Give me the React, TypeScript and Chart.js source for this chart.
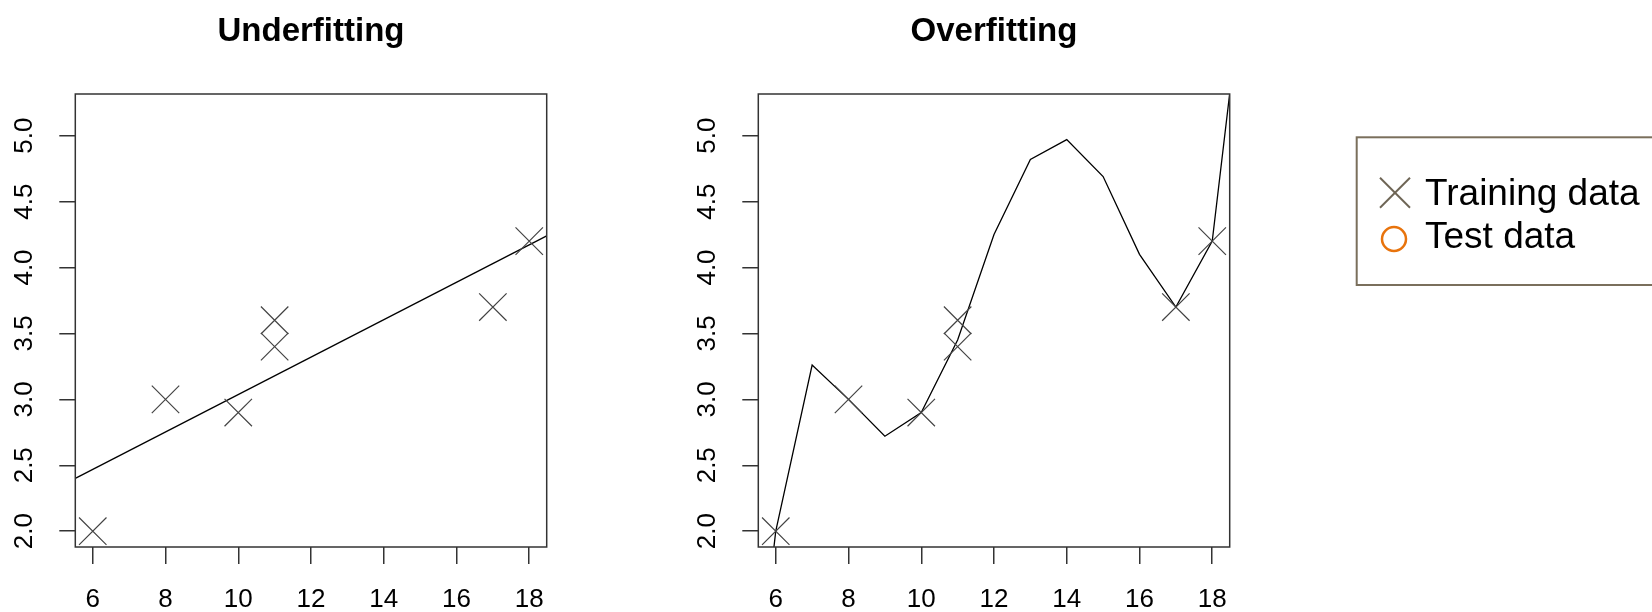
import React, { useEffect, useRef } from 'react';
import { Chart, registerables } from 'chart.js';

Chart.register(...registerables);

const FONT = '"Liberation Sans", Arial, Helvetica, sans-serif';

// ---- data ----
const trainX = [6, 8, 10, 11, 11, 17, 18];
const trainY = [2.0, 3.0, 2.9, 3.6, 3.4, 3.7, 4.2];

const fitX = [5.52, 18.48];
const fitY = [2.4, 4.24];

const overX = [5.5, 6, 7, 8, 9, 10, 11, 12, 13, 14, 15, 16, 17, 18, 18.48];
const overY = [0.8, 2.0, 3.26, 3.0, 2.72, 2.9, 3.45, 4.25, 4.82, 4.97, 4.69, 4.1, 3.7, 4.2, 5.32];

const xTicks = [6, 8, 10, 12, 14, 16, 18];
const xTickLabels = ['6', '8', '10', '12', '14', '16', '18'];
const yTicks = [2.0, 2.5, 3.0, 3.5, 4.0, 4.5, 5.0];
const yTickLabels = ['2.0', '2.5', '3.0', '3.5', '4.0', '4.5', '5.0'];

const titles = ['Underfitting', 'Overfitting'];
const legendLabels = ['Training data', 'Test data'];

const X_MIN = 5.52;
const X_MAX = 18.48;
const Y_MIN = 1.88;
const Y_MAX = 5.316;

const CANVAS_W = 622;
const CANVAS_H = 612;
const SIDE = 75.3;

const framePlugin = {
  id: 'rframe',
  afterDraw(chart: any) {
    const { ctx, chartArea: a, scales } = chart;
    ctx.save();
    ctx.strokeStyle = '#333';
    ctx.lineWidth = 1.5;
    ctx.strokeRect(a.left, a.top, a.right - a.left, a.bottom - a.top);
    ctx.fillStyle = '#000';
    ctx.font = `26px ${FONT}`;
    ctx.textAlign = 'center';
    ctx.textBaseline = 'middle';
    yTicks.forEach((v, i) => {
      const y = scales.y.getPixelForValue(v);
      ctx.save();
      ctx.translate(25, y);
      ctx.rotate(-Math.PI / 2);
      ctx.fillText(yTickLabels[i], 0, 0);
      ctx.restore();
    });
    ctx.restore();
  },
};

function Panel({ title, lineX, lineY, left }: { title: string; lineX: number[]; lineY: number[]; left: number }) {
  const ref = useRef<HTMLCanvasElement | null>(null);
  useEffect(() => {
    if (!ref.current) return;
    const chart = new Chart(ref.current, {
      type: 'scatter',
      data: {
        datasets: [
          {
            label: 'fit',
            data: lineX.map((x, i) => ({ x, y: lineY[i] })),
            showLine: true,
            borderColor: '#000',
            borderWidth: 1.3,
            pointRadius: 0,
            tension: 0,
            order: 2,
          } as any,
          {
            label: 'Training data',
            data: trainX.map((x, i) => ({ x, y: trainY[i] })),
            pointStyle: 'crossRot',
            pointRadius: 19.4,
            borderColor: '#444',
            backgroundColor: 'rgba(0,0,0,0)',
            borderWidth: 1.2,
            order: 1,
          } as any,
        ],
      },
      options: {
        animation: false,
        responsive: false,
        devicePixelRatio: 1,
        events: [],
        layout: { padding: { left: SIDE, right: SIDE, top: 0, bottom: 0 } },
        plugins: {
          legend: { display: false },
          tooltip: { enabled: false },
          title: {
            display: true,
            text: title,
            color: '#000',
            font: { family: FONT, size: 33, weight: 'bold' },
            padding: { top: 12, bottom: 42.4 },
          },
        },
        scales: {
          x: {
            type: 'linear',
            min: X_MIN,
            max: X_MAX,
            afterBuildTicks: (s: any) => {
              s.ticks = xTicks.map((v) => ({ value: v }));
            },
            afterFit: (s: any) => {
              s.height = 65;
            },
            border: { display: false },
            grid: { drawOnChartArea: false, drawTicks: true, tickLength: 17, color: '#333', lineWidth: 1.5 },
            ticks: {
              autoSkip: false,
              maxRotation: 0,
              minRotation: 0,
              padding: 20,
              color: '#000',
              font: { family: FONT, size: 26 },
              callback: (v: any) => {
                const i = xTicks.indexOf(Number(v));
                return i >= 0 ? xTickLabels[i] : '';
              },
            },
          },
          y: {
            type: 'linear',
            min: Y_MIN,
            max: Y_MAX,
            afterBuildTicks: (s: any) => {
              s.ticks = yTicks.map((v) => ({ value: v }));
            },
            afterFit: (s: any) => {
              s.width = 0;
            },
            border: { display: false },
            grid: { drawOnChartArea: false, drawTicks: true, tickLength: 16, color: '#333', lineWidth: 1.5 },
            ticks: { display: false },
          },
        },
      } as any,
      plugins: [framePlugin],
    });
    return () => chart.destroy();
  }, []);
  return (
    <canvas
      ref={ref}
      width={CANVAS_W}
      height={CANVAS_H}
      style={{ position: 'absolute', left, top: 0, width: CANVAS_W, height: CANVAS_H }}
    />
  );
}

export default function App() {
  return (
    <div
      style={{
        position: 'fixed',
        left: 0,
        top: 0,
        width: 1652,
        height: 612,
        overflow: 'hidden',
        background: '#fff',
      }}
    >
      <Panel title={titles[0]} lineX={fitX} lineY={fitY} left={0} />
      <Panel title={titles[1]} lineX={overX} lineY={overY} left={683.4} />
      <svg
        width={1652}
        height={612}
        style={{ position: 'absolute', left: 0, top: 0, pointerEvents: 'none' }}
      >
        <rect x={1356.7} y={137.3} width={400} height={147.7} fill="none" stroke="#7a6f5c" strokeWidth={2} />
        <line x1={1380} y1={177.7} x2={1410} y2={207.7} stroke="#6e6555" strokeWidth={2} />
        <line x1={1380} y1={207.7} x2={1410} y2={177.7} stroke="#6e6555" strokeWidth={2} />
        <circle cx={1394} cy={239} r={12} fill="none" stroke="#e8730c" strokeWidth={2.5} />
        <text x={1425} y={205} fontFamily={FONT} fontSize={37} fill="#000">
          {legendLabels[0]}
        </text>
        <text x={1425} y={248} fontFamily={FONT} fontSize={37} fill="#000">
          {legendLabels[1]}
        </text>
      </svg>
    </div>
  );
}
